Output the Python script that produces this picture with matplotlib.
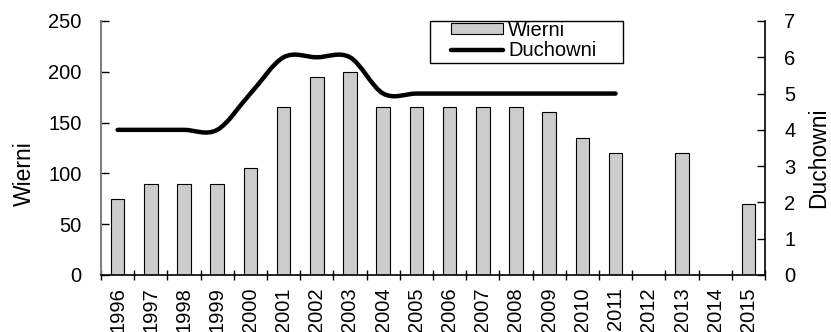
import numpy as np
import matplotlib
matplotlib.use("Agg")
import matplotlib.pyplot as plt
from matplotlib.path import Path
from matplotlib.patches import PathPatch, Rectangle, Patch
from matplotlib.lines import Line2D

years = ["1996", "1997", "1998", "1999", "2000", "2001", "2002", "2003", "2004", "2005",
         "2006", "2007", "2008", "2009", "2010", "2011", "2012", "2013", "2014", "2015"]
wierni = [75, 90, 90, 90, 105, 165, 195, 200, 165, 165,
          165, 165, 165, 160, 135, 120, np.nan, 120, np.nan, 70]
duchowni = [4, 4, 4, 4, 5, 6, 6, 6, 5, 5, 5, 5, 5, 5, 5, 5]

plt.rcParams['font.family'] = ['Liberation Sans', 'DejaVu Sans']
plt.rcParams['font.size'] = 14.5

fig = plt.figure(figsize=(8.31, 3.32), dpi=100)
W, H = 831, 332
ax = fig.add_axes([101 / W, 1 - 275 / H, (765 - 101) / W, (275 - 21) / H])
ax2 = ax.twinx()

x = np.arange(len(years))
ax.bar(x, wierni, width=0.41, color="#cccccc", edgecolor="black", linewidth=0.8, zorder=2)
ax.set_xlim(-0.5, len(years) - 0.5)
ax.set_ylim(0, 250)
ax.set_yticks(np.arange(0, 251, 50))
ax.set_xticks(x)
ax.set_xticklabels(years, rotation=90)
ax.set_xticks(np.arange(-0.5, len(years), 1.0), minor=True)
ax.tick_params(axis="x", which="major", length=0, pad=9)
ax.tick_params(axis="x", which="minor", direction="inout", length=7, width=1)
ax.tick_params(axis="y", direction="in", length=6, width=1, pad=14)
ax.set_ylabel("Wierni", fontsize=16.5, va="center", ha="center")
ax.yaxis.set_label_coords(-0.115, 0.398)
for s in ["top", "right"]:
    ax.spines[s].set_visible(False)
ax.spines["left"].set_color("#808080")
ax.spines["left"].set_linewidth(1.5)
ax.spines["bottom"].set_linewidth(1.2)

# smooth (Catmull-Rom style, as Excel) line for Duchowni
px = np.arange(len(duchowni), dtype=float)
py = np.array(duchowni, dtype=float)
verts = [(px[0], py[0])]
codes = [Path.MOVETO]
n = len(px)
for i in range(n - 1):
    p0 = (px[max(i - 1, 0)], py[max(i - 1, 0)])
    p1 = (px[i], py[i])
    p2 = (px[i + 1], py[i + 1])
    p3 = (px[min(i + 2, n - 1)], py[min(i + 2, n - 1)])
    c1 = (p1[0] + (p2[0] - p0[0]) / 6, p1[1] + (p2[1] - p0[1]) / 6)
    c2 = (p2[0] - (p3[0] - p1[0]) / 6, p2[1] - (p3[1] - p1[1]) / 6)
    verts += [c1, c2, p2]
    codes += [Path.CURVE4] * 3
path = Path(verts, codes)
ax2.add_patch(PathPatch(path, facecolor="none", edgecolor="black", linewidth=3.2,
                        capstyle="round", joinstyle="round", zorder=3))
ax2.set_ylim(0, 7)
ax2.set_yticks(np.arange(0, 8, 1))
ax2.tick_params(axis="y", direction="in", length=6, width=1, pad=14)
ax2.set_ylabel("Duchowni", fontsize=16.5, va="center", ha="center")
ax2.yaxis.set_label_coords(1.081, 0.46)
for s in ["top", "left", "bottom"]:
    ax2.spines[s].set_visible(False)
ax2.spines["right"].set_linewidth(1.2)

# legend: frame drawn separately to get its wide side padding
fig.patches.append(Rectangle((430 / W, 1 - 63 / H), (623 - 430) / W, (63 - 21) / H,
                             transform=fig.transFigure, facecolor="white",
                             edgecolor="black", linewidth=1.0, zorder=4))
handles = [Patch(facecolor="#cccccc", edgecolor="black", linewidth=0.8),
           Line2D([0], [0], color="black", linewidth=3.2, solid_capstyle="round")]
leg = fig.legend(handles, ["Wierni", "Duchowni"], loc="upper left",
                 bbox_to_anchor=(451 / W, 1 - 21 / H), frameon=False,
                 fontsize=14.5, handlelength=2.6, handleheight=0.45,
                 handletextpad=0.25, borderpad=0.0, labelspacing=0.05,
                 borderaxespad=0)
leg.set_zorder(5)

fig.savefig("out.png", dpi=100)
